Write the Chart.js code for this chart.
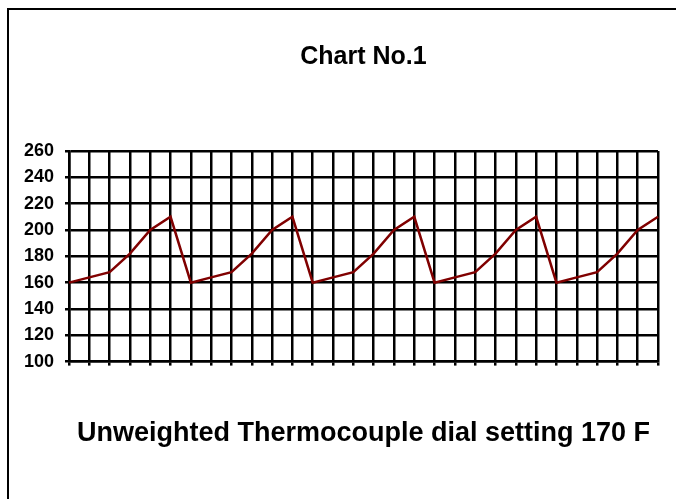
<!DOCTYPE html>
<html>
<head>
<meta charset="utf-8">
<script src="https://cdn.jsdelivr.net/npm/chart.js@4/dist/chart.umd.min.js"></script>
<style>
  html, body { margin: 0; padding: 0; background: #fff; overflow: hidden; }
  #frame {
    position: absolute; left: 7px; top: 8px;
    width: 1000px; height: 1000px;
    border-left: 2px solid #000; border-top: 2px solid #000;
  }
  #chart { position: absolute; left: 0; top: 0; }
</style>
</head>
<body>
<div id="frame"></div>
<canvas id="chart" width="676" height="499"></canvas>
<script>
/* ================= DATA ================= */

const readings = [1, 2, 3, 4, 5, 6, 7, 8, 9, 10, 11, 12, 13, 14, 15,
                  16, 17, 18, 19, 20, 21, 22, 23, 24, 25, 26, 27, 28, 29, 30];

const temperatures = [160, 164, 168, 182, 200, 210,
                      160, 164, 168, 182, 200, 210,
                      160, 164, 168, 182, 200, 210,
                      160, 164, 168, 182, 200, 210,
                      160, 164, 168, 182, 200, 210];

const yTicks = [100, 120, 140, 160, 180, 200, 220, 240, 260];

const chartTitle = "Chart No.1";
const bottomLabel = "Unweighted Thermocouple dial setting 170 F";

/* ================= CHART ================= */

const FONT = "'Liberation Sans', Arial, Helvetica, sans-serif";

new Chart(document.getElementById("chart"), {
    type: "line",
    data: {
        labels: readings,
        datasets: [{
            data: temperatures,
            borderColor: "#800000",
            borderWidth: 2.5,
            pointRadius: 0,
            tension: 0,
            fill: false
        }]
    },
    options: {
        responsive: false,
        animation: false,
        layout: { padding: { top: 0, right: 18, bottom: 0, left: 0 } },
        plugins: {
            legend: { display: false },
            tooltip: { enabled: false },
            title: {
                display: true,
                text: chartTitle,
                fullSize: false,
                color: "#000",
                font: { family: FONT, size: 25, weight: "bold", lineHeight: 1.2 },
                padding: { top: 42, bottom: 79 }
            }
        },
        scales: {
            x: {
                type: "category",
                offset: false,
                grid: { color: "#000", lineWidth: 2.5, tickLength: 4, drawTicks: true },
                border: { color: "#000", width: 2.5 },
                ticks: { display: false },
                title: {
                    display: true,
                    text: bottomLabel,
                    color: "#000",
                    font: { family: FONT, size: 27, weight: "bold", lineHeight: 1.2 },
                    padding: { top: 52, bottom: 49 }
                }
            },
            y: {
                min: yTicks[0],
                max: yTicks[yTicks.length - 1],
                grid: { color: "#000", lineWidth: 2.5, tickLength: 4 },
                border: { color: "#000", width: 2.5 },
                ticks: {
                    stepSize: yTicks[1] - yTicks[0],
                    color: "#000",
                    padding: 11,
                    font: { family: FONT, size: 18, weight: "bold" }
                },
                afterFit: s => { s.width = 69; }
            }
        }
    }
});
</script>
</body>
</html>
